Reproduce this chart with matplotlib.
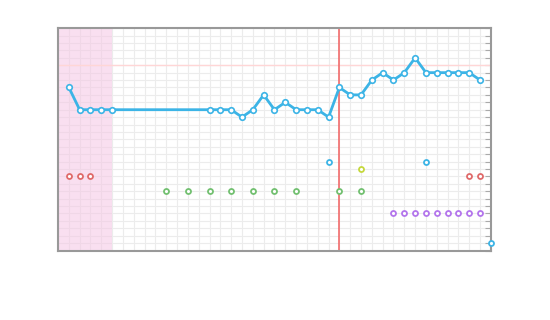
import numpy as np
import matplotlib.pyplot as plt

# main series (gap between x=5 and x=14 is just a straight connection)
line_x = [1, 2, 3, 4, 5, 14, 15, 16, 17, 18, 19, 20, 21, 22, 23, 24, 25, 26, 27, 28,
          29, 30, 31, 32, 33, 34, 35, 36, 37, 38, 39]
line_y = [22, 19, 19, 19, 19, 19, 19, 19, 18, 19, 21, 19, 20, 19, 19, 19, 18, 22, 21, 21,
          23, 24, 23, 24, 26, 24, 24, 24, 24, 24, 23]

red_x = [1, 2, 3, 38, 39]
red_y = [10, 10, 10, 10, 10]
green_x = [10, 12, 14, 16, 18, 20, 22, 26, 28]
green_y = [8, 8, 8, 8, 8, 8, 8, 8, 8]
blue_x = [25, 34, 40]
blue_y = [12, 12, 1]
yellow_x = [28]
yellow_y = [11]
purple_x = [31, 32, 33, 34, 35, 36, 37, 38, 39]
purple_y = [5, 5, 5, 5, 5, 5, 5, 5, 5]

shade_span = (0, 5)
vline_x = 26
hline_y = 25

fig = plt.figure(figsize=(5.5, 3.2), dpi=100)
ax = fig.add_axes([0.1055, 0.217, 0.787, 0.695])

ax.set_xlim(0, 40)
ax.set_ylim(0, 30)
ax.set_xticks(np.arange(0, 41, 1))
ax.set_yticks(np.arange(0, 31, 1))
ax.grid(True, color='#ececec', linewidth=0.8)
ax.set_axisbelow(True)
ax.tick_params(left=False, bottom=False, labelleft=False, labelbottom=False,
               right=True, direction='in', length=4, color='#aaaaaa')

for s in ax.spines.values():
    s.set_color('#999999')
    s.set_linewidth(1.5)

ax.axvspan(*shade_span, color='#f5c6e4', alpha=0.55, lw=0)
ax.axhline(hline_y, color='#ffd6d6', lw=1)
ax.axvline(vline_x, color='#f26b6b', lw=1.2)

ax.plot(line_x, line_y, color='#3cb4e6', lw=2, marker='o', ms=4,
        mfc='white', mec='#3cb4e6', mew=1.2, zorder=4)

def pts(x, y, c):
    ax.plot(x, y, ls='none', marker='o', ms=3.6, mfc='white', mec=c, mew=1.3,
            zorder=5, clip_on=False)

pts(red_x, red_y, '#e06a6a')
pts(green_x, green_y, '#72c070')
pts(blue_x, blue_y, '#3cb4e6')
pts(yellow_x, yellow_y, '#c5d83c')
pts(purple_x, purple_y, '#b375ec')

fig.savefig('out.png', dpi=100)
